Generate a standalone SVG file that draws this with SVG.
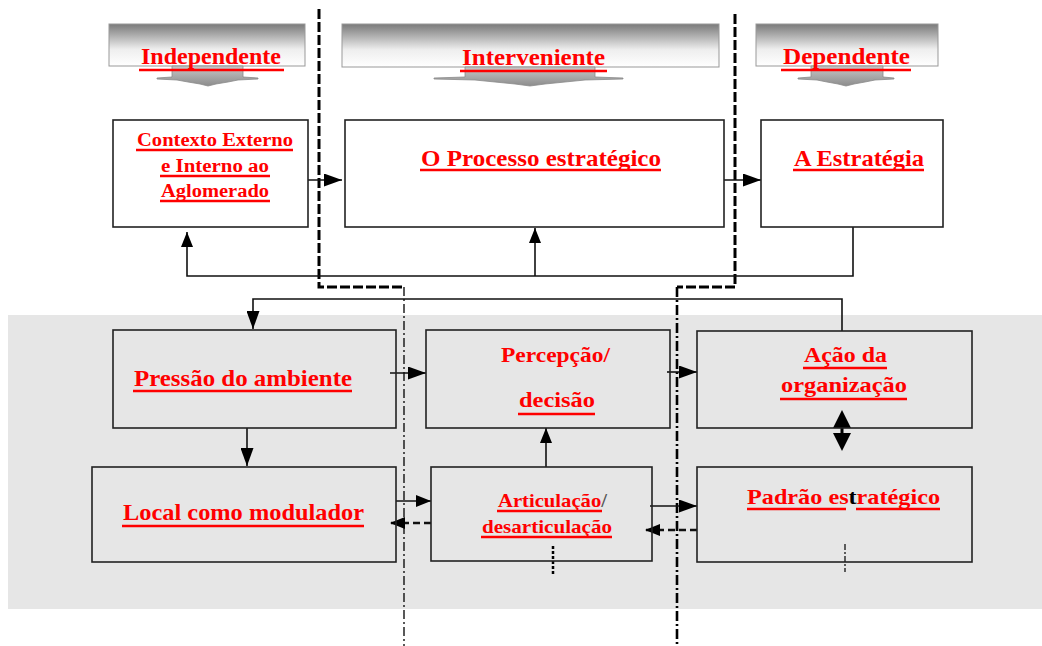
<svg xmlns="http://www.w3.org/2000/svg" width="1042" height="646" viewBox="0 0 1042 646">
  <defs>
    <linearGradient id="bannerFill" x1="0" y1="0" x2="0" y2="1">
      <stop offset="0" stop-color="#7a7a7a"/>
      <stop offset="0.2" stop-color="#a0a0a0"/>
      <stop offset="0.6" stop-color="#eeeeee"/>
      <stop offset="1" stop-color="#ffffff"/>
    </linearGradient>
    <linearGradient id="dropFill" x1="0" y1="0" x2="0" y2="1">
      <stop offset="0" stop-color="#c8c8c8"/>
      <stop offset="1" stop-color="#8c8c8c"/>
    </linearGradient>
    <marker id="arrow" markerWidth="18" markerHeight="13" refX="18" refY="6.5" orient="auto" markerUnits="userSpaceOnUse">
      <path d="M0,0 L18,6.5 L0,13 Z" fill="#000"/>
    </marker>
    <marker id="arrowSmall" markerWidth="15" markerHeight="12" refX="15" refY="6" orient="auto" markerUnits="userSpaceOnUse">
      <path d="M0,0 L15,6 L0,12 Z" fill="#000"/>
    </marker>
  </defs>
  <style>
    .banner{fill:url(#bannerFill);stroke:#999;stroke-width:1}
    .drop{fill:url(#dropFill);stroke:#8a8a8a;stroke-width:0.8}
    .box{fill:#fff;stroke:#222;stroke-width:1.6}
    .lbox{fill:none;stroke:#222;stroke-width:1.6}
    .lbl{font-family:"Liberation Serif","Times New Roman",serif;font-weight:bold;fill:#f00}
    .ul{stroke:#f00;stroke-width:2.6}
    .conn{stroke:#111;stroke-width:1.6;fill:none}
    .dconn{stroke:#111;stroke-width:2.6;fill:none;stroke-dasharray:7 4}
    .divider{stroke:#000;stroke-width:3;fill:none;stroke-dasharray:10 3}
    .div-thin{stroke:#000;stroke-width:1.3;fill:none;stroke-dasharray:9 3 2 3}
    .div-thick{stroke:#000;stroke-width:2.6;fill:none;stroke-dasharray:10 3 2 3}
  </style>

  <rect width="1042" height="646" fill="#fff"/>
  <!-- shaded lower band -->
  <rect x="8" y="315" width="1034" height="294" fill="#e6e6e6"/>

  <!-- column dividers -->
  <g id="dividers">
    <path class="divider" d="M319,9 V287 H404"/>
    <path class="div-thin" d="M404,287 V646"/>
    <path class="divider" d="M735,14 V287 H677"/>
    <path class="div-thick" d="M677,287 V646"/>
    <path d="M553,546 V574" stroke="#000" stroke-width="2.5" stroke-dasharray="3 2"/>
    <path d="M845,544 V572" stroke="#000" stroke-width="1.2" stroke-dasharray="6 2 2 2"/>
  </g>

  <!-- column headers -->
  <g id="header-independente">
    <rect class="banner" x="109" y="24" width="196" height="42"/>
    <path class="drop" d="M172,66 H243 V77 L258,78 V79 L238,80 L228,82 L216,84 L208,86 L200,84 L188,82 L177,80 L157,79 V78 L172,77 Z"/>
    <text class="lbl" x="141" y="64" font-size="24" textLength="140" lengthAdjust="spacingAndGlyphs">Independente</text>
    <line class="ul" x1="139" y1="70" x2="284" y2="70"/>
  </g>
  <g id="header-interveniente">
    <rect class="banner" x="342" y="24" width="377" height="43"/>
    <path class="drop" d="M465,67 H595 V77 L623,78 V79 L585,80 L565,82 L545,84 L530,86 L515,84 L495,82 L475,80 L434,79 V78 L465,77 Z"/>
    <text class="lbl" x="462" y="65" font-size="24" textLength="143" lengthAdjust="spacingAndGlyphs">Interveniente</text>
    <line class="ul" x1="460" y1="71" x2="607" y2="71"/>
  </g>
  <g id="header-dependente">
    <rect class="banner" x="756" y="24" width="182" height="42"/>
    <path class="drop" d="M811,66 H883 V77 L894,78 V79 L875,80 L865,82 L854,84 L846,86 L838,84 L827,82 L817,80 L798,79 V78 L811,77 Z"/>
    <text class="lbl" x="783" y="64" font-size="24" textLength="127" lengthAdjust="spacingAndGlyphs">Dependente</text>
    <line class="ul" x1="781" y1="70" x2="911" y2="70"/>
  </g>

  <!-- connectors -->
  <g id="connectors">
    <line class="conn" x1="303" y1="180" x2="342" y2="180" marker-end="url(#arrow)"/>
    <line class="conn" x1="719" y1="180" x2="761" y2="180" marker-end="url(#arrow)"/>
    <path class="conn" d="M853,227 V276 H187 V232" marker-end="url(#arrowSmall)"/>
    <line class="conn" x1="535" y1="276" x2="535" y2="228" marker-end="url(#arrowSmall)"/>
    <path class="conn" d="M842,331 V299 H253 V329" marker-end="url(#arrow)"/>
    <line class="conn" x1="247" y1="428" x2="247" y2="466" marker-end="url(#arrow)"/>
    <line class="conn" x1="390" y1="373" x2="426" y2="373" marker-end="url(#arrow)"/>
    <line class="conn" x1="667" y1="372" x2="697" y2="372" marker-end="url(#arrow)"/>
    <line class="conn" x1="546" y1="467" x2="546" y2="428" marker-end="url(#arrowSmall)"/>
    <line class="conn" x1="396" y1="501" x2="431" y2="501" marker-end="url(#arrowSmall)"/>
    <line class="dconn" x1="431" y1="523" x2="390" y2="523" marker-end="url(#arrowSmall)"/>
    <line class="conn" x1="650" y1="506" x2="697" y2="506" marker-end="url(#arrow)"/>
    <line class="dconn" x1="697" y1="530" x2="645" y2="530" marker-end="url(#arrowSmall)"/>
    <path d="M842,410 L851,428 L833,428 Z" fill="#000"/>
    <path d="M833,433 L851,433 L842,451 Z" fill="#000"/>
    <line x1="842" y1="426" x2="842" y2="436" stroke="#000" stroke-width="3"/>
  </g>

  <!-- upper row -->
  <g id="node-contexto">
    <rect class="box" x="113" y="120" width="195" height="107"/>
    <text class="lbl" x="137" y="146" font-size="18" textLength="156" lengthAdjust="spacingAndGlyphs">Contexto Externo</text>
    <line class="ul" x1="136" y1="150" x2="293" y2="150"/>
    <text class="lbl" x="161" y="172" font-size="18" textLength="108" lengthAdjust="spacingAndGlyphs">e Interno ao</text>
    <line class="ul" x1="160" y1="176" x2="270" y2="176"/>
    <text class="lbl" x="161" y="197" font-size="18" textLength="108" lengthAdjust="spacingAndGlyphs">Aglomerado</text>
    <line class="ul" x1="160" y1="201" x2="270" y2="201"/>
  </g>
  <g id="node-processo">
    <rect class="box" x="345" y="120" width="379" height="107"/>
    <text class="lbl" x="421" y="166" font-size="24" textLength="240" lengthAdjust="spacingAndGlyphs">O Processo estratégico</text>
    <line class="ul" x1="420" y1="170" x2="661" y2="170"/>
  </g>
  <g id="node-estrategia">
    <rect class="box" x="761" y="120" width="182" height="107"/>
    <text class="lbl" x="794" y="166" font-size="24" textLength="130" lengthAdjust="spacingAndGlyphs">A Estratégia</text>
    <line class="ul" x1="793" y1="170" x2="924" y2="170"/>
  </g>

  <!-- lower band -->
  <g id="node-pressao">
    <rect class="lbox" x="113" y="330" width="283" height="98"/>
    <text class="lbl" x="134" y="386" font-size="24" textLength="218" lengthAdjust="spacingAndGlyphs">Pressão do ambiente</text>
    <line class="ul" x1="133" y1="391" x2="352" y2="391"/>
  </g>
  <g id="node-percepcao">
    <rect class="lbox" x="426" y="330" width="244" height="98"/>
    <text class="lbl" x="501" y="362" font-size="22" textLength="109" lengthAdjust="spacingAndGlyphs">Percepção/</text>
    <text class="lbl" x="519" y="407" font-size="22" textLength="76" lengthAdjust="spacingAndGlyphs">decisão</text>
    <line class="ul" x1="518" y1="414" x2="595" y2="414"/>
  </g>
  <g id="node-acao">
    <rect class="lbox" x="697" y="331" width="275" height="97"/>
    <text class="lbl" x="804" y="362" font-size="22" textLength="83" lengthAdjust="spacingAndGlyphs">Ação da</text>
    <line class="ul" x1="803" y1="368" x2="887" y2="368"/>
    <text class="lbl" x="781" y="392" font-size="22" textLength="126" lengthAdjust="spacingAndGlyphs">organização</text>
    <line class="ul" x1="780" y1="399" x2="907" y2="399"/>
  </g>
  <g id="node-local">
    <rect class="lbox" x="92" y="467" width="304" height="95"/>
    <text class="lbl" x="123" y="520" font-size="24" textLength="241" lengthAdjust="spacingAndGlyphs">Local como modulador</text>
    <line class="ul" x1="122" y1="526" x2="364" y2="526"/>
  </g>
  <g id="node-articulacao">
    <rect class="lbox" x="431" y="467" width="221" height="94"/>
    <text class="lbl" x="498" y="507" font-size="19" textLength="109" lengthAdjust="spacingAndGlyphs">Articulação<tspan fill="#555">/</tspan></text>
    <line class="ul" x1="497" y1="511" x2="602" y2="511"/>
    <text class="lbl" x="482" y="533" font-size="19" textLength="130" lengthAdjust="spacingAndGlyphs">desarticulação</text>
    <line class="ul" x1="481" y1="537" x2="612" y2="537"/>
  </g>
  <g id="node-padrao">
    <rect class="lbox" x="697" y="467" width="275" height="95"/>
    <text class="lbl" x="747" y="504" font-size="22" textLength="193" lengthAdjust="spacingAndGlyphs">Padrão es<tspan fill="#000">t</tspan>ratégico</text>
    <line class="ul" x1="747" y1="509" x2="846" y2="509"/>
    <line class="ul" x1="856" y1="509" x2="940" y2="509"/>
  </g>
</svg>
